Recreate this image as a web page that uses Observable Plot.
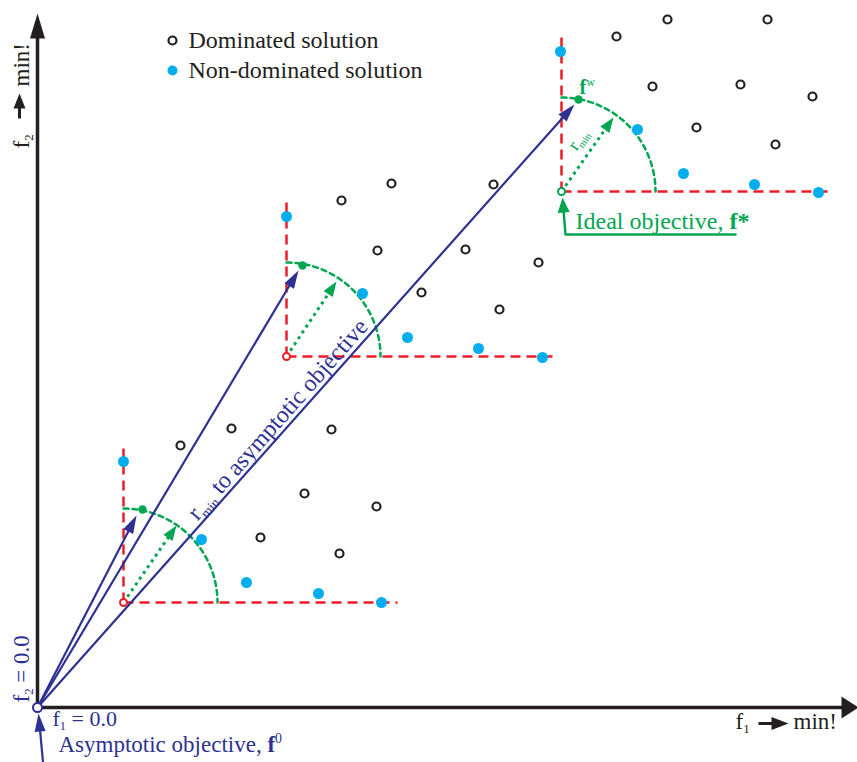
<!DOCTYPE html>
<html><head><meta charset="utf-8">
<script src="https://cdn.jsdelivr.net/npm/d3@7"></script>
<script src="https://cdn.jsdelivr.net/npm/@observablehq/plot@0.6"></script>
<style>html,body{margin:0;padding:0;background:#fff;overflow:hidden}</style>
</head><body><div id="chart"></div>
<script>
// Chart units: f1 to the right, f2 upward; origin = asymptotic objective f0
const dominated = [
  [143,262],[194,279],[294,278],[267,214],[339,201],[223,170],[302,154],
  [304,507],[354,524],[456,523],[340,457],[428,458],[501,445],[384,415],[462,398],
  [579,671],[630,688],[730,688],[615,621],[703,623],[775,611],[659,580],[738,563]
];
const nonDominated = [
  [86,246],[164,168],[209,125],[281,114],[344,105],
  [249,491],[325,414],[370,370],[441,359],[505,350],
  [523,656],[600,578],[646,534],[717,523],[781,515]
];
const idealPoints = [[86,105],[249,351],[524,516]];
const idealKinds = ["shifted","shifted","ideal"];
const compromise = [[105,198],[265,442],[541,608]];     // f^w on each arc
const rminTips = [[99,192],[261,437],[537,603]];        // blue arrow tips
const radiusTips = [[139,182],[299,426],[576,590]];     // green dotted arrow tips
const arcRadius = 94;
const frontTop = [264, 505, 670];    // upper end of the vertical dashed boundary
const frontRight = [360, 520, 795];  // right end of the horizontal dashed boundary
const legendLabels = ["Dominated solution", "Non-dominated solution"];
const legendPos = [[135,667],[135,637]];
const fStarArrow = [[698,473],[528,473],[525,510]];
const asymArrow = [[6,-60],[1,-6]];
const f2Arrow = [[-18,589],[-18,614]];
const f1Arrow = [[721,-16],[751,-16]];
const yAxisTip = [0,694];
const xAxisTip = [821,0];

const navy="#2e3192", green="#00a651", red="#ed1c24", cyan="#00aeef", ink="#231f20";

function head(tip, from, len, wid, id){
  const dx=tip[0]-from[0], dy=tip[1]-from[1], L=Math.hypot(dx,dy);
  const ux=dx/L, uy=dy/L, px=-uy, py=ux;
  const bx=tip[0]-ux*len, by=tip[1]-uy*len;
  return [[tip[0],tip[1]],[bx+px*wid/2,by+py*wid/2],[bx-px*wid/2,by-py*wid/2],[tip[0],tip[1]]]
    .map(p=>({x:p[0],y:p[1],id}));
}
function back(tip, from, d){
  const dx=tip[0]-from[0], dy=tip[1]-from[1], L=Math.hypot(dx,dy);
  return [tip[0]-dx/L*d, tip[1]-dy/L*d];
}

const groups = idealPoints.map((p,i)=>({p, top:frontTop[i], right:frontRight[i], kind:idealKinds[i],
  w:compromise[i], tipB:rminTips[i], tipG:radiusTips[i]}));

const arcs = [];
groups.forEach((g,i)=>{ for(let a=90;a>=0;a-=1){ const r=a*Math.PI/180;
  arcs.push({x:g.p[0]+arcRadius*Math.cos(r), y:g.p[1]+arcRadius*Math.sin(r), id:i}); }});

const greenHeads = groups.flatMap((g,i)=>head(g.tipG,g.p,15,11,"g"+i));
const blueHeads = groups.flatMap((g,i)=>head(g.tipB,[0,0],18,11,"b"+i));
const otherHeads = [
  ...head(fStarArrow[2],fStarArrow[1],15,12,"fs"),
  ...head(asymArrow[1],asymArrow[0],18,11,"as"),
  ...head(f2Arrow[1],f2Arrow[0],15,12,"f2"),
  ...head(f1Arrow[1],f1Arrow[0],17,13,"f1")
];
const axisHeads = [...head(yAxisTip,[0,0],25,15,"ya"), ...head(xAxisTip,[0,0],17,22,"xa")];

const texts = [
  {t:legendLabels[0], x:legendPos[0][0]+16, y:legendPos[0][1], c:ink, s:24, r:0, la:"middle"},
  {t:legendLabels[1], x:legendPos[1][0]+16, y:legendPos[1][1], c:ink, s:24, r:0, la:"middle"},
  {t:"f_{1} = 0.0", x:15, y:-18, c:navy, s:22, r:0, la:"bottom"},
  {t:"Asymptotic objective, *{f}^{0}", x:21, y:-44, c:navy, s:23, r:0, la:"bottom"},
  {t:"f_{1}", x:698, y:-21, c:ink, s:23, r:0, la:"bottom"},
  {t:"min!", x:756, y:-21, c:ink, s:23, r:0, la:"bottom"},
  {t:"f_{2}", x:-9, y:559, c:ink, s:23, r:-90, la:"bottom"},
  {t:"min!", x:-9, y:621, c:ink, s:23, r:-90, la:"bottom"},
  {t:"f_{2} = 0.0", x:-9, y:5, c:navy, s:23, r:-90, la:"bottom"},
  {t:"Ideal objective, *{f*}", x:538, y:479, c:green, s:24, r:0, la:"bottom"},
  {t:"r_{min} to asymptotic objective", x:160, y:186, c:navy, s:24, r:-48.5, la:"bottom"},
  {t:"r_{min}", x:539, y:556, c:green, s:18, r:-55, la:"bottom"},
  {t:"*{f}^{w}", x:542, y:614, c:green, s:20, r:0, la:"bottom"}
];

const X=d=>d[0], Y=d=>d[1];
const plot = Plot.plot({
  width:857, height:762, margin:0,
  x:{domain:[-37,820], axis:null},
  y:{domain:[-55,707], axis:null},
  style:{fontFamily:"'Liberation Serif','Times New Roman',serif", background:"white", overflow:"hidden"},
  marks:[
    Plot.link(groups,{x1:g=>g.p[0],y1:g=>g.p[1],x2:g=>g.p[0],y2:g=>g.top,stroke:red,strokeWidth:2.5,strokeDasharray:"10,6"}),
    Plot.link(groups,{x1:g=>g.p[0],y1:g=>g.p[1],x2:g=>g.right,y2:g=>g.p[1],stroke:red,strokeWidth:2.5,strokeDasharray:"10,6"}),
    Plot.line(arcs,{x:"x",y:"y",z:"id",stroke:green,strokeWidth:2.5,strokeDasharray:"5,4"}),
    Plot.link(groups,{x1:g=>g.p[0],y1:g=>g.p[1],x2:g=>back(g.tipG,g.p,12)[0],y2:g=>back(g.tipG,g.p,12)[1],stroke:green,strokeWidth:3,strokeDasharray:"3,4"}),
    Plot.line(greenHeads,{x:"x",y:"y",z:"id",fill:green,stroke:"none"}),
    Plot.link([[0,0]],{x1:0,y1:0,x2:()=>0,y2:()=>yAxisTip[1]-20,stroke:ink,strokeWidth:3.5}),
    Plot.link([[0,0]],{x1:0,y1:0,x2:()=>xAxisTip[0]-14,y2:()=>0,stroke:ink,strokeWidth:3.5}),
    Plot.line(axisHeads,{x:"x",y:"y",z:"id",fill:ink,stroke:"none"}),
    Plot.link(groups,{x1:()=>0,y1:()=>0,x2:g=>back(g.tipB,[0,0],14)[0],y2:g=>back(g.tipB,[0,0],14)[1],stroke:navy,strokeWidth:2.2}),
    Plot.line(blueHeads,{x:"x",y:"y",z:"id",fill:navy,stroke:"none"}),
    Plot.line([fStarArrow[0],fStarArrow[1],back(fStarArrow[2],fStarArrow[1],12)],{x:X,y:Y,stroke:green,strokeWidth:2.5}),
    Plot.link([asymArrow],{x1:d=>d[0][0],y1:d=>d[0][1],x2:d=>back(d[1],d[0],14)[0],y2:d=>back(d[1],d[0],14)[1],stroke:navy,strokeWidth:2.2}),
    Plot.link([f2Arrow,f1Arrow],{x1:d=>d[0][0],y1:d=>d[0][1],x2:d=>back(d[1],d[0],12)[0],y2:d=>back(d[1],d[0],12)[1],stroke:ink,strokeWidth:3}),
    Plot.line(otherHeads,{x:"x",y:"y",z:"id",fill:d=>d.id==="fs"?green:d.id==="as"?navy:ink,stroke:"none"}),
    Plot.dot(dominated,{x:X,y:Y,r:4,stroke:ink,strokeWidth:2.2,fill:"white"}),
    Plot.dot(nonDominated,{x:X,y:Y,r:5.5,fill:cyan,stroke:"none"}),
    Plot.dot(groups,{x:g=>g.p[0],y:g=>g.p[1],r:3.5,fill:"white",stroke:g=>g.kind==="ideal"?green:red,strokeWidth:2}),
    Plot.dot(compromise,{x:X,y:Y,r:4.2,fill:green,stroke:"none"}),
    Plot.dot([[0,0]],{x:X,y:Y,r:4.5,fill:"white",stroke:navy,strokeWidth:2}),
    Plot.dot([legendPos[0]],{x:X,y:Y,r:4,stroke:ink,strokeWidth:2.2,fill:"white"}),
    Plot.dot([legendPos[1]],{x:X,y:Y,r:5,fill:cyan,stroke:"none"}),
    ...texts.map(d=>Plot.text([d],{x:"x",y:"y",text:"t",fill:"c",fontSize:d.s,rotate:d.r,textAnchor:"start",lineAnchor:d.la}))
  ]
});
document.getElementById("chart").appendChild(plot);

// rich text: _{sub}, ^{sup}, *{bold}
plot.querySelectorAll("text").forEach(t=>{
  const s=t.textContent;
  if(!/[_^*]\{/.test(s)) return;
  const fs=parseFloat(getComputedStyle(t).fontSize);
  t.textContent="";
  let shift=0;
  s.split(/([_^*]\{[^}]*\})/).filter(p=>p!=="").forEach(p=>{
    const ts=document.createElementNS("http://www.w3.org/2000/svg","tspan");
    let target=0, txt=p;
    if(/^[_^*]\{/.test(p)){
      const k=p[0]; txt=p.slice(2,-1);
      if(k==="_"){target=0.2*fs; ts.setAttribute("font-size",0.56*fs);}
      else if(k==="^"){target=-0.38*fs; ts.setAttribute("font-size",0.6*fs);}
      else ts.setAttribute("font-weight","bold");
    }
    const d=target-shift; if(d) ts.setAttribute("dy",d); shift=target;
    ts.textContent=txt; t.appendChild(ts);
  });
});
</script></body></html>
